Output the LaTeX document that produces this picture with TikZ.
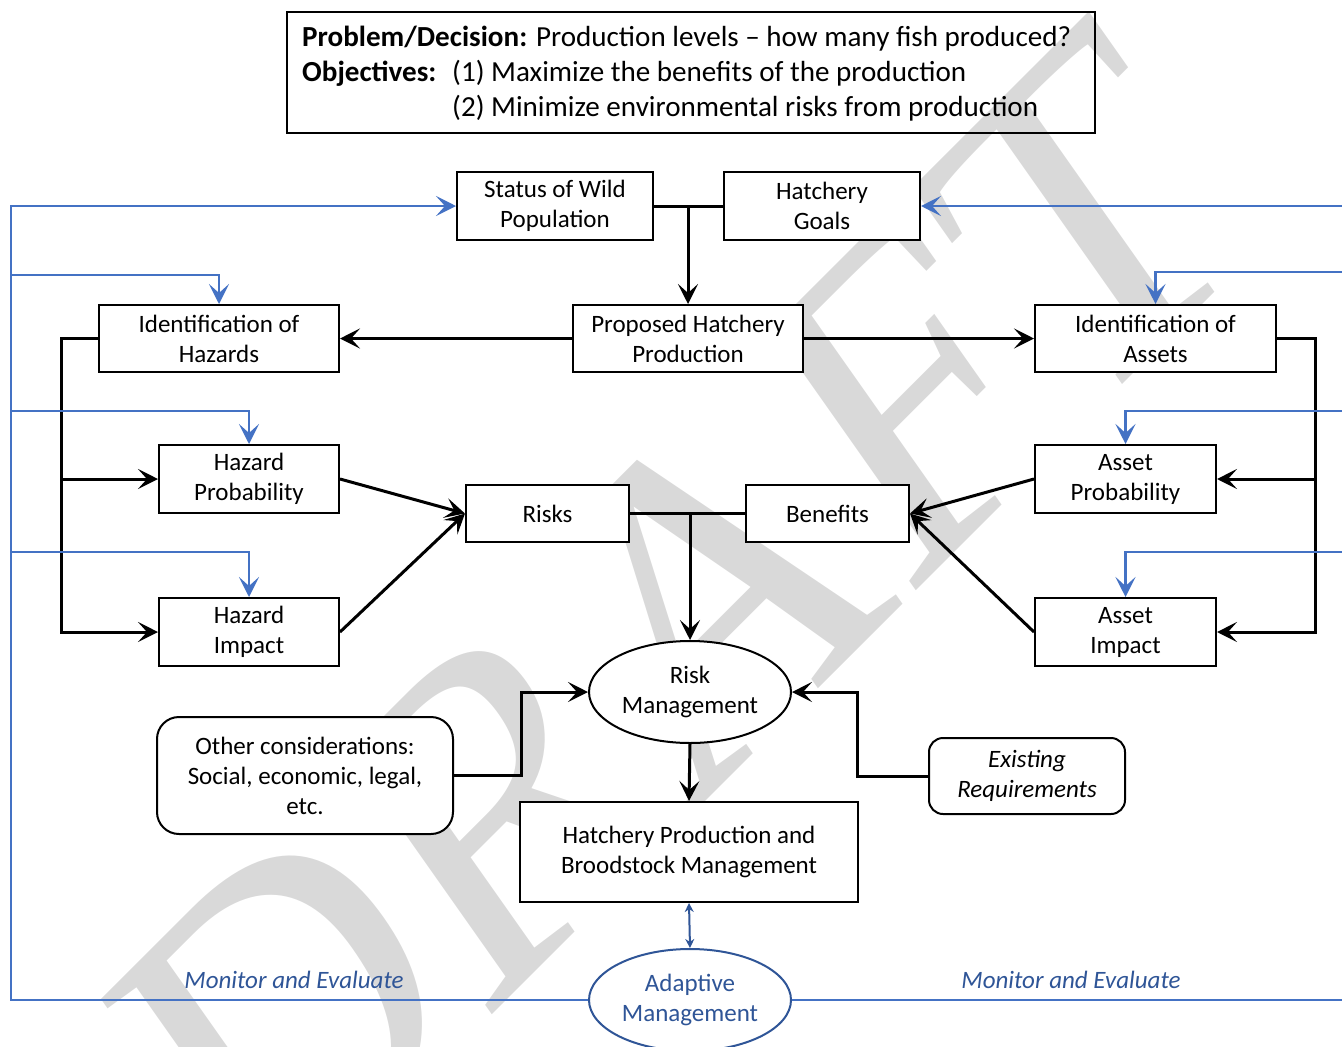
\documentclass[tikz,border=0pt]{standalone}
\usepackage{fontspec}
\setmainfont{Carlito}
\newfontfamily\wmfont{Liberation Serif}
\usetikzlibrary{arrows.meta,shapes.geometric,calc}
\definecolor{wmgray}{HTML}{D9D9D9}
\definecolor{lblue}{HTML}{4472C4}
\definecolor{dblue}{HTML}{2F5597}
\begin{document}
\begin{tikzpicture}[x=1pt,y=-1pt,
  box/.style={draw=black, line width=2pt, fill=white, align=center, inner sep=0pt, font=\fontsize{25}{30}\selectfont},
  tip/.style={-{Stealth[length=20pt,width=20pt,inset=9pt]}},
  conn/.style={line width=3pt, draw=black, tip},
  plainline/.style={line width=3pt, draw=black},
  fb/.style={line width=2.8pt, draw=lblue},
  fbar/.style={fb, tip},
  lbl/.style={text=dblue, inner sep=0pt, font=\fontsize{25}{30}\selectfont\itshape}
]
\useasboundingbox (0,0) rectangle (1342,1047);
% watermark
\begin{scope}[xscale=0.84]
\node[rotate=40, transform shape, text=wmgray, inner sep=0pt, font=\wmfont\fontsize{475}{475}\selectfont] (wm) at (806,626) {DRAFT};
\end{scope}

% top box
\node[draw, line width=2pt, minimum width=808pt, minimum height=121pt, inner sep=0pt] (prob) at (691,72.5) {};
\node[anchor=west, align=left, inner sep=0pt, font=\fontsize{29.1}{35}\selectfont] (probtext) at (302,74)
 {\textbf{Problem/Decision:} Production levels – how many fish produced?\\
  \makebox[150pt][l]{\textbf{Objectives:}}(1) Maximize the benefits of the production\\
  \hspace*{150pt}(2) Minimize environmental risks from production};

% nodes
\node[box, minimum width=196pt, minimum height=68pt] (status) at (555,206) {Status of Wild\\Population};
\node[box, minimum width=196pt, minimum height=68pt] (goals) at (822,206) {Hatchery\\Goals};
\node[box, minimum width=230pt, minimum height=67pt] (prop) at (688,338.5) {Proposed Hatchery\\Production};
\node[box, minimum width=240pt, minimum height=67pt] (haz) at (219,338.5) {Identification of\\Hazards};
\node[box, minimum width=241pt, minimum height=67pt] (ast) at (1155.5,338.5) {Identification of\\Assets};
\node[box, minimum width=180pt, minimum height=68pt] (hp) at (249,479) {Hazard\\Probability};
\node[box, minimum width=180pt, minimum height=68pt] (hi) at (249,632) {Hazard\\Impact};
\node[box, minimum width=181pt, minimum height=68pt] (ap) at (1125.5,479) {Asset\\Probability};
\node[box, minimum width=181pt, minimum height=68pt] (ai) at (1125.5,632) {Asset\\Impact};
\node[box, minimum width=163pt, minimum height=57pt] (risks) at (547.5,513.5) {Risks};
\node[box, minimum width=163pt, minimum height=57pt] (ben) at (827.5,513.5) {Benefits};
\node[box, ellipse, minimum width=202pt, minimum height=102pt] (rm) at (690,692) {Risk\\Management};
\node[box, rounded corners=22pt, minimum width=296pt, minimum height=117pt] (other) at (305,775.5) {Other considerations:\\Social, economic, legal,\\etc.};
\node[box, rounded corners=14pt, minimum width=196pt, minimum height=76pt, font=\fontsize{25}{30}\selectfont\itshape] (exist) at (1027,776) {Existing\\Requirements};
\node[box, minimum width=338pt, minimum height=100pt] (hpbm) at (689,852) {Hatchery Production and\\Broodstock Management};
\node[box, ellipse, draw=dblue, text=dblue, minimum width=202pt, minimum height=102pt] (am) at (690,1000) {Adaptive\\Management};

\node[lbl] (mel) at (294,980) {Monitor and Evaluate};
\node[lbl] (mer) at (1071,980) {Monitor and Evaluate};

% black connectors
\draw[plainline] (status.east) -- (goals.west);
\draw[conn] (status.east -| prop.north) -- (prop.north);
\draw[conn] (prop.west) -- (haz.east);
\draw[conn] (prop.east) -- (ast.west);
\draw[conn] (haz.west) -- ++(-37,0) |- (hp.west);
\draw[conn] (haz.west) -- ++(-37,0) |- (hi.west);
\draw[conn] (ast.east) -- ++(38,0) |- (ap.east);
\draw[conn] (ast.east) -- ++(38,0) |- (ai.east);
\draw[conn] (hp.east) -- (risks.west);
\draw[conn] (hi.east) -- (risks.west);
\draw[conn] (ap.west) -- (ben.east);
\draw[conn] (ai.west) -- (ben.east);
\draw[plainline] (risks.east) -- (ben.west);
\draw[conn] (risks.east -| rm.north) -- (rm.north);
\draw[conn] (other.east) -- ++(67,0) |- (rm.west);
\draw[conn] (exist.west) -- ++(-71,0) |- (rm.east);
\draw[conn] (rm.south) -- (hpbm.north);
\draw[line width=2pt, draw=dblue, {Stealth[length=9pt,width=9pt]}-{Stealth[length=9pt,width=9pt]}] (hpbm.south) -- (am.north);

% feedback (blue)
\coordinate (L0) at (11,206);
\coordinate (L1) at (11,275);
\coordinate (L2) at (11,411);
\coordinate (L3) at (11,552);
\coordinate (R0) at (1342,206);
\coordinate (R1) at (1342,272);
\coordinate (R2) at (1342,411);
\coordinate (R3) at (1342,552);
\draw[fbar] (am.west) -| (L0) -- (status.west);
\draw[fbar] (L1) -| (haz.north);
\draw[fbar] (L2) -| (hp.north);
\draw[fbar] (L3) -| (hi.north);
\draw[fbar] (R0) -- (goals.east);
\draw[fbar] (R1) -| (ast.north);
\draw[fbar] (R2) -| (ap.north);
\draw[fbar] (R3) -| (ai.north);
\draw[fb] (am.east) -- (am.east -| R0);
\end{tikzpicture}
\end{document}
